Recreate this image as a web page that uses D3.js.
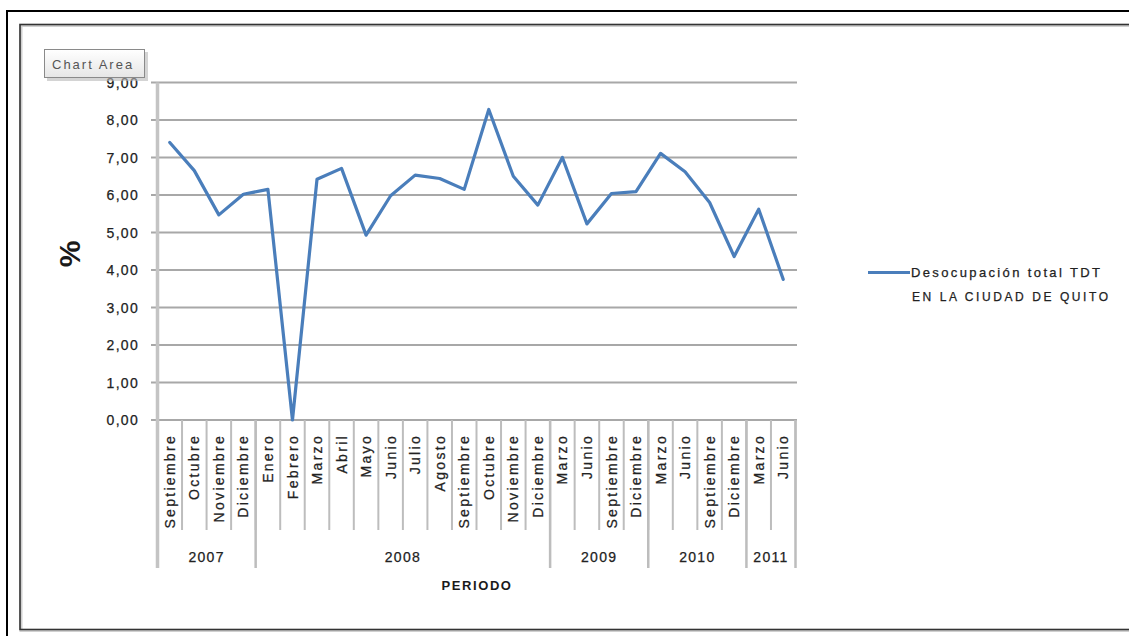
<!DOCTYPE html>
<html>
<head>
<meta charset="utf-8">
<script src="https://cdn.jsdelivr.net/npm/d3@7"></script>
<style>
  html, body { margin: 0; padding: 0; background: #ffffff; }
  svg { display: block; }
  text { font-family: "Liberation Sans", Arial, sans-serif; }
</style>
</head>
<body>
<script>
// Desocupación total (TDT) en la ciudad de Quito, 2007–2011
const months = ["Septiembre","Octubre","Noviembre","Diciembre",
  "Enero","Febrero","Marzo","Abril","Mayo","Junio","Julio","Agosto","Septiembre","Octubre","Noviembre","Diciembre",
  "Marzo","Junio","Septiembre","Diciembre",
  "Marzo","Junio","Septiembre","Diciembre",
  "Marzo","Junio"];
const years = ["2007","2008","2009","2010","2011"];
const yearCounts = [4, 12, 4, 4, 2];
const values = [7.40, 6.65, 5.47, 6.02, 6.15, 0.00, 6.42, 6.71, 4.93, 5.98, 6.53, 6.44, 6.15, 8.28, 6.50, 5.73,
  7.00, 5.23, 6.04, 6.09, 7.11, 6.62, 5.80, 4.36, 5.62, 3.75];
const yTicks = [0, 1, 2, 3, 4, 5, 6, 7, 8, 9];
const seriesName = ["Desocupación total TDT", "EN LA CIUDAD DE QUITO"];

const W = 1129, H = 636;
const svg = d3.select("body").append("svg").attr("width", W).attr("height", H);

// Frames
svg.append("rect").attr("x", 7).attr("y", 11).attr("width", W + 20).attr("height", H + 20)
  .attr("fill", "none").attr("stroke", "#000").attr("stroke-width", 2);
svg.append("rect").attr("x", 21).attr("y", 25.5).attr("width", W + 20).attr("height", 605)
  .attr("fill", "none").attr("stroke", "#d0d0d0").attr("stroke-width", 3);
svg.append("rect").attr("x", 20).attr("y", 24.5).attr("width", W + 20).attr("height", 605)
  .attr("fill", "none").attr("stroke", "#333").attr("stroke-width", 1.6);

const x = d3.scaleBand().domain(d3.range(months.length)).range([157.5, 795.5]).padding(0);
const y = d3.scaleLinear().domain([0, 9]).range([420, 82.5]);
const fmt = v => d3.format(".2f")(v).replace(".", ",");
const x0 = x.range()[0], step = x.step();

// Horizontal gridlines with outer ticks
svg.append("g").selectAll("line").data(yTicks).join("line")
  .attr("x1", 151).attr("x2", 797)
  .attr("y1", d => y(d)).attr("y2", d => y(d))
  .attr("stroke", "#a8a8a8").attr("stroke-width", 2);

// Value axis labels
svg.append("g").selectAll("text").data(yTicks).join("text")
  .attr("x", 139).attr("y", d => y(d)).attr("dy", "0.36em")
  .attr("text-anchor", "end").attr("font-size", 14).attr("letter-spacing", 1.3)
  .attr("fill", "#222").attr("stroke", "#222").attr("stroke-width", 0.25).text(fmt);

// Vertical axis line
svg.append("line").attr("x1", 157.5).attr("x2", 157.5).attr("y1", y(9)).attr("y2", 568)
  .attr("stroke", "#c4c4c4").attr("stroke-width", 3.5);

// Month separators
const bounds = d3.range(1, months.length + 1).map(i => x0 + i * step);
svg.append("g").selectAll("line").data(bounds).join("line")
  .attr("x1", d => d).attr("x2", d => d).attr("y1", 420).attr("y2", 530)
  .attr("stroke", "#bdbdbd").attr("stroke-width", 2);

// Year separators
const yearEnds = Array.from(d3.cumsum(yearCounts));
svg.append("g").selectAll("line").data(yearEnds).join("line")
  .attr("x1", d => x0 + d * step).attr("x2", d => x0 + d * step)
  .attr("y1", 420).attr("y2", 568)
  .attr("stroke", "#bdbdbd").attr("stroke-width", 2.5);

// Month labels (rotated)
svg.append("g").selectAll("text").data(months).join("text")
  .attr("transform", (d, i) => `translate(${x(i) + x.bandwidth() / 2},434) rotate(-90)`)
  .attr("dy", "0.36em").attr("text-anchor", "end")
  .attr("font-size", 14).attr("letter-spacing", 2.3)
  .attr("fill", "#222").attr("stroke", "#222").attr("stroke-width", 0.25)
  .text(d => d);

// Year labels
const yearStartIdx = [0].concat(yearEnds.slice(0, -1));
svg.append("g").selectAll("text").data(years).join("text")
  .attr("x", (d, i) => x0 + (yearStartIdx[i] + yearCounts[i] / 2) * step)
  .attr("y", 557).attr("dy", "0.36em").attr("text-anchor", "middle")
  .attr("font-size", 14).attr("letter-spacing", 1.3)
  .attr("fill", "#222").attr("stroke", "#222").attr("stroke-width", 0.25)
  .text(d => d);

// Axis titles
svg.append("text").attr("x", 477).attr("y", 585).attr("dy", "0.36em").attr("text-anchor", "middle")
  .attr("font-size", 13).attr("font-weight", "bold").attr("letter-spacing", 1.6).attr("fill", "#1a1a1a")
  .text("PERIODO");
svg.append("text").attr("transform", "translate(69,254) rotate(-90)").attr("dy", "0.36em")
  .attr("text-anchor", "middle").attr("font-size", 30).attr("font-weight", "bold").attr("fill", "#1a1a1a")
  .text("%");

// Series line
const line = d3.line().x((d, i) => x(i) + x.bandwidth() / 2).y(d => y(d));
svg.append("path").datum(values).attr("d", line)
  .attr("fill", "none").attr("stroke", "#4a7ebb").attr("stroke-width", 3.2)
  .attr("stroke-linejoin", "round").attr("stroke-linecap", "round");

// Legend
svg.append("line").attr("x1", 868).attr("x2", 910).attr("y1", 272.5).attr("y2", 272.5)
  .attr("stroke", "#4a7ebb").attr("stroke-width", 3);
svg.append("text").attr("x", 911).attr("y", 272.5).attr("dy", "0.36em")
  .attr("font-size", 13).attr("textLength", 189).attr("lengthAdjust", "spacing")
  .attr("fill", "#222").attr("stroke", "#222").attr("stroke-width", 0.25)
  .text(seriesName[0]);
svg.append("text").attr("x", 912).attr("y", 297).attr("dy", "0.36em")
  .attr("font-size", 12).attr("textLength", 196).attr("lengthAdjust", "spacing")
  .attr("fill", "#222").attr("stroke", "#222").attr("stroke-width", 0.25)
  .text(seriesName[1]);

// Element tooltip in the top-left corner
const defs = svg.append("defs");
const grad = defs.append("linearGradient").attr("id", "tip").attr("x1", 0).attr("y1", 0).attr("x2", 0).attr("y2", 1);
grad.append("stop").attr("offset", "0%").attr("stop-color", "#ffffff");
grad.append("stop").attr("offset", "100%").attr("stop-color", "#e6e6e6");
svg.append("rect").attr("x", 47).attr("y", 52).attr("width", 101).attr("height", 29)
  .attr("fill", "#b8b8b8").attr("opacity", 0.6);
svg.append("rect").attr("x", 44.5).attr("y", 49.5).attr("width", 100).attr("height", 28)
  .attr("fill", "url(#tip)").attr("stroke", "#8a8a8a").attr("stroke-width", 1);
svg.append("text").attr("x", 52).attr("y", 64).attr("dy", "0.36em")
  .attr("font-size", 13).attr("letter-spacing", 2).attr("fill", "#555")
  .text("Chart Area");
</script>
</body>
</html>
